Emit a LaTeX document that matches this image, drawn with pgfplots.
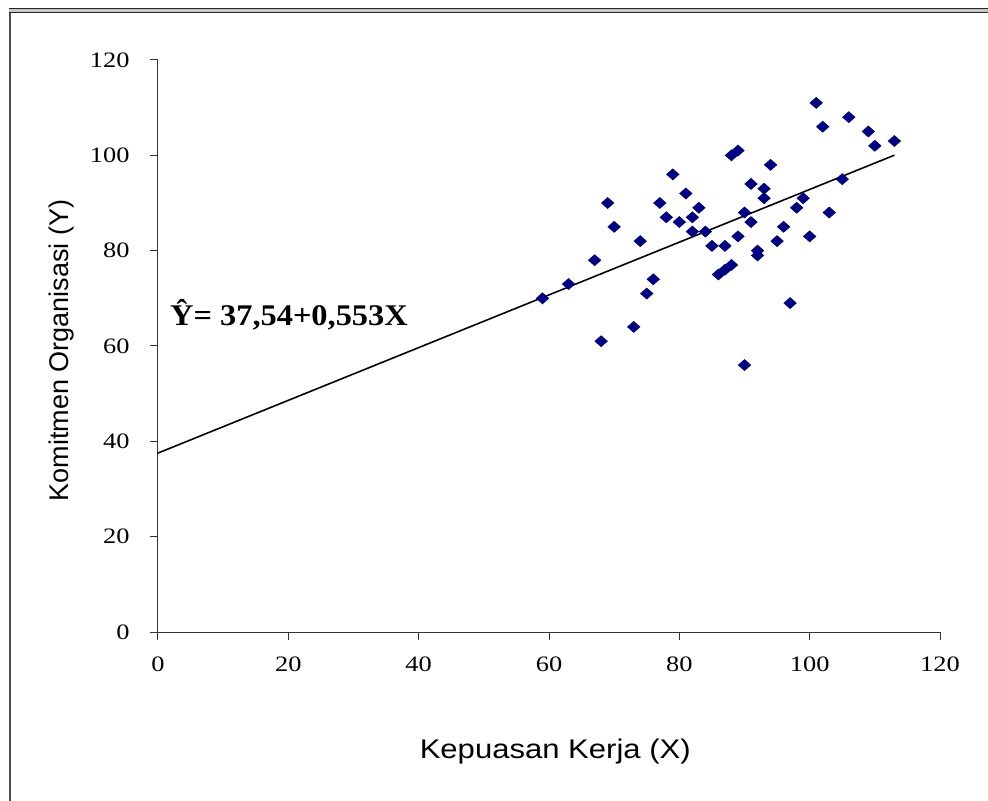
\documentclass[border=0pt]{standalone}
\usepackage{pgfplots}
\pgfplotsset{compat=1.18}
\usepackage{fontspec}
\setmainfont{Liberation Serif}
\newfontfamily\arial{Liberation Sans}
\definecolor{navyd}{RGB}{0,0,128}
\begin{document}
\begin{tikzpicture}
\useasboundingbox (-79pt,-84.5pt) rectangle (415pt,316pt);
% outer frame
\fill[gray!45] (-74.5pt,309.6pt) rectangle (415pt,311.8pt);
\draw[black!85,line width=0.55pt] (-74.5pt,311.8pt) -- (415pt,311.8pt);
\draw[black!85,line width=0.55pt] (-74.5pt,309.6pt) -- (415pt,309.6pt);
\draw[black!70,line width=1pt] (-74pt,309.6pt) -- (-74pt,-84.5pt);
\begin{axis}[
  at={(0pt,0pt)}, anchor=south west,
  scale only axis, width=391pt, height=286pt,
  xmin=0, xmax=120, ymin=0, ymax=120,
  xtick={0,20,...,120}, ytick={0,20,...,120},
  axis lines*=left,
  axis line style={black!80, line width=0.5pt},
  tick style={black!80, line width=0.5pt},
  tick align=outside, major tick length=4pt,
  /pgf/number format/assume math mode=true,
  ticklabel style={font=\fontsize{11}{13}\selectfont, xscale=1.2},
  xticklabel style={yshift=-5pt},
  yticklabel style={xshift=-5pt},
  xlabel={\arial\fontsize{13.5}{16}\selectfont Kepuasan Kerja (X)},
  ylabel={\arial\fontsize{13.5}{16}\selectfont Komitmen Organisasi (Y)},
  xlabel style={at={(axis description cs:0.508,0)}, anchor=center, yshift=-60pt, xscale=1.15},
  ylabel style={at={(axis description cs:0,0.492)}, anchor=center, yshift=48pt},
  clip=false,
]
\addplot[black, line width=0.8pt] coordinates {(0,37.54) (113,100.03)};
\addplot[only marks, mark=diamond*, mark size=2.7pt,
  mark options={xscale=1.5, fill=navyd, draw=navyd}] coordinates {
(59,70) (63,73) (67,78) (68,61) (69,90) (70,85) (73,64) (74,82) (75,71) (76,74)
(77,90) (78,87) (79,96) (80,86) (81,92) (82,87) (82,84) (83,89) (84,84) (85,81)
(86,75) (87,76) (88,77) (87,81) (88,100) (89,101) (89,83) (90,88) (90,56) (91,94)
(91,86) (92,80) (92,79) (93,93) (93,91) (94,98) (95,82) (96,85) (97,69) (98,89)
(99,91) (100,83) (101,111) (102,106) (103,88) (105,95) (106,108) (109,105) (110,102) (113,103)
};
\node[anchor=west, xscale=1.08, inner sep=0pt, font=\bfseries\fontsize{15}{17}\selectfont] at (axis cs:1.8,66.5) {Ŷ= 37,54+0,553X};
\end{axis}
\end{tikzpicture}
\end{document}
